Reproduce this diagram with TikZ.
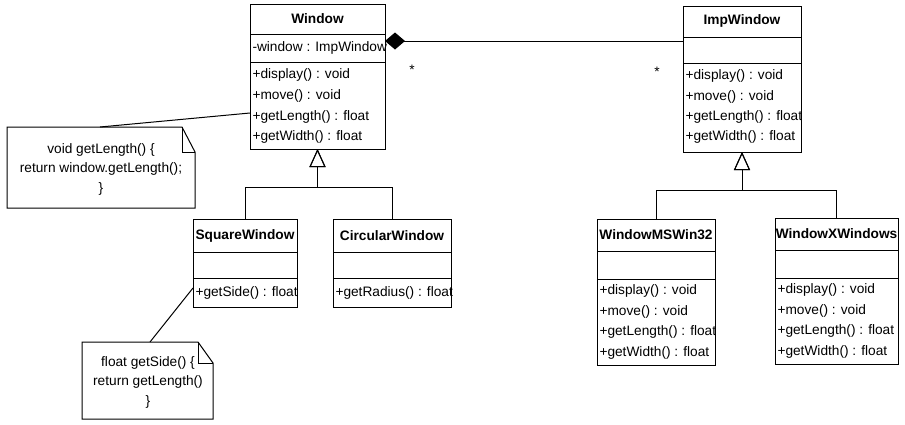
\documentclass[tikz,border=0pt]{standalone}
\usepackage{fontspec}
\setmainfont{Liberation Sans}
\usetikzlibrary{arrows.meta,calc}

\begin{document}
\begin{tikzpicture}[x=1pt,y=-1pt,
  line width=1pt,
  font=\fontsize{13.7}{16}\selectfont,
  classbox/.style={draw, rectangle, inner sep=0pt, outer sep=0pt},
  classname/.style={inner sep=0pt, font=\fontsize{13.7}{16}\selectfont\bfseries},
  member/.style={anchor=west, inner sep=0pt},
  notebox/.style={rectangle, inner sep=0pt, outer sep=0pt},
  notetext/.style={align=center, inner sep=0pt, font=\fontsize{13.7}{19.5}\selectfont},
  mult/.style={inner sep=0pt},
  inherit/.style={-{Triangle[open, length=18pt, width=16pt]}},
  aggregate/.style={-{Diamond[length=20pt, width=17pt, fill=black]}},
]
\useasboundingbox (0,0) rectangle (905,424);

% ---------- Window ----------
\node[classbox, minimum width=135pt, minimum height=145pt] (win) at (317.5,76.5) {};
\draw (win.west |- 0,34) -- (win.east |- 0,34);
\draw (win.west |- 0,62) -- (win.east |- 0,62);
\node[classname] (win-t) at (317.5,19) {Window};
\node[member] (win-a1) at (252,48) {-window : ImpWindow};
\node[member] (win-m1) at (252,75) {+display() : void};
\node[member] (win-m2) at (252,96) {+move() : void};
\node[member] (win-m3) at (252,117) {+getLength() : float};
\node[member] (win-m4) at (252,137) {+getWidth() : float};

% ---------- ImpWindow ----------
\node[classbox, minimum width=118pt, minimum height=146pt] (imp) at (742,79) {};
\draw (imp.west |- 0,37) -- (imp.east |- 0,37);
\draw (imp.west |- 0,63) -- (imp.east |- 0,63);
\node[classname] (imp-t) at (742,21) {ImpWindow};
\node[member] (imp-m1) at (685,76) {+display() : void};
\node[member] (imp-m2) at (685,97) {+move() : void};
\node[member] (imp-m3) at (685,117) {+getLength() : float};
\node[member] (imp-m4) at (685,137) {+getWidth() : float};

% ---------- SquareWindow ----------
\node[classbox, minimum width=104pt, minimum height=88pt] (sq) at (245,263) {};
\draw (sq.west |- 0,252) -- (sq.east |- 0,252);
\draw (sq.west |- 0,278) -- (sq.east |- 0,278);
\node[classname] (sq-t) at (245,235.5) {SquareWindow};
\node[member] (sq-m1) at (195,292.5) {+getSide() : float};

% ---------- CircularWindow ----------
\node[classbox, minimum width=118pt, minimum height=88pt] (circ) at (392,263) {};
\draw (circ.west |- 0,252) -- (circ.east |- 0,252);
\draw (circ.west |- 0,278) -- (circ.east |- 0,278);
\node[classname] (circ-t) at (392,235.5) {CircularWindow};
\node[member] (circ-m1) at (335,292.5) {+getRadius() : float};

% ---------- WindowMSWin32 ----------
\node[classbox, minimum width=118pt, minimum height=146pt] (ms) at (656,292) {};
\draw (ms.west |- 0,251) -- (ms.east |- 0,251);
\draw (ms.west |- 0,279) -- (ms.east |- 0,279);
\node[classname] (ms-t) at (656,235) {WindowMSWin32};
\node[member] (ms-m1) at (599,291) {+display() : void};
\node[member] (ms-m2) at (599,311.5) {+move() : void};
\node[member] (ms-m3) at (599,332) {+getLength() : float};
\node[member] (ms-m4) at (599,352.5) {+getWidth() : float};

% ---------- WindowXWindows ----------
\node[classbox, minimum width=123pt, minimum height=146pt] (xw) at (836.5,291) {};
\draw (xw.west |- 0,250) -- (xw.east |- 0,250);
\draw (xw.west |- 0,278) -- (xw.east |- 0,278);
\node[classname] (xw-t) at (836.5,234) {WindowXWindows};
\node[member] (xw-m1) at (777,290) {+display() : void};
\node[member] (xw-m2) at (777,310.5) {+move() : void};
\node[member] (xw-m3) at (777,331) {+getLength() : float};
\node[member] (xw-m4) at (777,351.5) {+getWidth() : float};

% ---------- Notes ----------
\node[notebox, minimum width=188pt, minimum height=81pt] (n1) at (101,167.5) {};
\draw (n1.north west) -- ($(n1.north east)+(-13,0)$) -- ($(n1.north east)+(0,25)$)
      -- (n1.south east) -- (n1.south west) -- cycle;
\draw ($(n1.north east)+(-13,0)$) -- ($(n1.north east)+(-13,25)$) -- ($(n1.north east)+(0,25)$);
\node[notetext] (n1-t) at (101,169) {void getLength() \{\\ return window.getLength();\\ \}};

\node[notebox, minimum width=131pt, minimum height=77pt] (n2) at (147.5,380.5) {};
\draw (n2.north west) -- ($(n2.north east)+(-15,0)$) -- ($(n2.north east)+(0,21)$)
      -- (n2.south east) -- (n2.south west) -- cycle;
\draw ($(n2.north east)+(-15,0)$) -- ($(n2.north east)+(-15,21)$) -- ($(n2.north east)+(0,21)$);
\node[notetext] (n2-t) at (148,382) {float getSide() \{\\ return getLength()\\ \}};

% ---------- Note anchors ----------
\draw ($(n1.north west)+(93,0)$) -- ($(win.west)+(0,36.5)$);
\draw ($(n2.north west)+(68,0)$) -- ($(sq.west)+(0,25)$);

% ---------- Aggregation ----------
\draw[aggregate] ($(imp.west)+(0,-38)$) -- ($(win.east)+(0,-35.5)$);
\node[mult] (m-win) at (412,70) {*};
\node[mult] (m-imp) at (657,72) {*};

% ---------- Generalisations ----------
\draw[inherit] (sq.north) -- ++(0,-32) -| (win.south);
\draw[inherit] (circ.north) -- ++(0,-32) -| (win.south);
\draw[inherit] (ms.north) -- ++(0,-29) -| (imp.south);
\draw[inherit] (xw.north) -- ++(0,-28) -| (imp.south);
\end{tikzpicture}
\end{document}
